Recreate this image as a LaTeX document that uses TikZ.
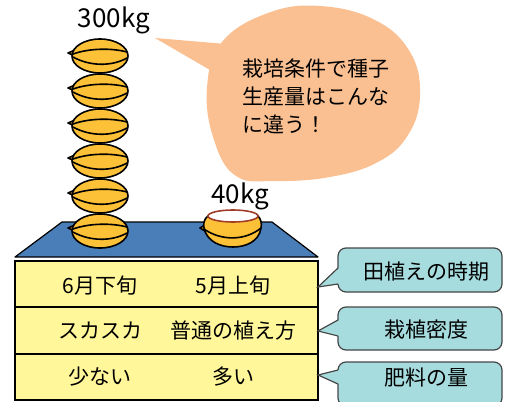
\documentclass[tikz,border=0pt]{standalone}
\usepackage{fontspec}
\setmainfont{Noto Sans CJK JP}
\definecolor{grainfill}{RGB}{253,193,55}
\definecolor{topblue}{RGB}{74,126,184}
\definecolor{tableyellow}{RGB}{255,247,153}
\definecolor{peach}{RGB}{250,192,146}
\definecolor{calloutteal}{RGB}{166,220,222}
\definecolor{callrim}{RGB}{70,70,70}
\definecolor{rimbrown}{RGB}{160,60,40}
\begin{document}
\begin{tikzpicture}[x=1pt,y=-1pt,
  grainedge/.style={draw=black, line width=1.6pt},
  lbl/.style={font=\fontsize{21}{25}\selectfont, inner sep=0pt},
  weight/.style={font=\fontsize{26}{30}\selectfont, inner sep=0pt},
  callbox/.style={draw=callrim, fill=calloutteal, line width=1.2pt,
    rounded corners=8pt, minimum width=164pt, inner sep=0pt},
  calltail/.style={draw=callrim, line width=1.2pt, line join=miter},
  grain/.pic={
    \filldraw[grainedge, fill=grainfill, line join=round] (-25,-6) -- (-32,-3) -- (-25,0) -- cycle;
    \filldraw[grainedge, fill=grainfill] (0,0) ellipse [x radius=28, y radius=17];
    \draw[grainedge] (-27,-2) .. controls (-10,-8) and (12,-8) .. (27,-4);
    \draw[grainedge] (-27,1) .. controls (-10,10.5) and (12,10.5) .. (27,2);
  }]
\useasboundingbox (0,0) rectangle (505,401);

% speech bubble
\fill[peach] plot[smooth cycle, tension=0.7] coordinates
  {(207,88) (222,42) (268,13) (320,6) (375,20) (410,52) (420,95)
   (408,135) (378,162) (330,177) (275,181) (236,176) (214,140)};
\fill[peach] (226,44) -- (155,38) -- (210,70) -- cycle;
\node[lbl, anchor=base west] (msgA) at (242,77) {栽培条件で種子};
\node[lbl, anchor=base west] (msgB) at (242,104.5) {生産量はこんな};
\node[lbl, anchor=base west] (msgC) at (242,132) {に違う！};

% blue top of the field block
\filldraw[fill=topblue, draw=black, line width=1.2pt, line join=round]
  (15,257) -- (62,222) -- (272,222) -- (318,257) -- cycle;

% table of conditions
\filldraw[fill=tableyellow, draw=black, line width=1.6pt] (15,261) rectangle (318,400);
\draw[line width=1.6pt] (15,307) -- (318,307);
\draw[line width=1.6pt] (15,354) -- (318,354);
\node[lbl] (c11) at (100,286) {6月下旬};
\node[lbl] (c12) at (233,286) {5月上旬};
\node[lbl] (c21) at (100,331) {スカスカ};
\node[lbl] (c22) at (233,331) {普通の植え方};
\node[lbl] (c31) at (100,377) {少ない};
\node[lbl] (c32) at (233,377) {多い};

% stack of seeds (300kg)
\foreach \gy in {56,91,126,161,196,231}
  \pic at (100,\gy) {grain};
\node[weight, anchor=base] (w300) at (114,28) {300kg};

% small seed heap (40kg)
\begin{scope}[shift={(233,216)}]
  \filldraw[grainedge, fill=grainfill, line join=round] (-28,9) -- (-33,12) -- (-28,15) -- cycle;
  \filldraw[grainedge, fill=grainfill]
    (-25,0) .. controls (-29,3) and (-30,8) .. (-29,12)
    .. controls (-26,26) and (-12,31) .. (0,31)
    .. controls (12,31) and (26,26) .. (28,12)
    .. controls (29,8) and (28,3) .. (25,0) -- cycle;
  \draw[grainedge] (-29,13) .. controls (-12,25) and (12,25) .. (28,12);
  \filldraw[fill=white, draw=rimbrown, line width=1.6pt] (0,0) ellipse [x radius=25, y radius=6];
\end{scope}
\node[weight, anchor=base] (w40) at (240,203) {40kg};

% callouts naming the conditions
\node[callbox, minimum height=44pt] (cb1) at (420,270) {};
\fill[calloutteal] (339,268) -- (318,287) -- (339,284) -- cycle;
\draw[calltail] (338,268) -- (318,287) -- (338,284);
\node[lbl] (t1) at (426,272) {田植えの時期};

\node[callbox, minimum height=43pt] (cb2) at (420,328.5) {};
\fill[calloutteal] (339,320) -- (318,331) -- (339,336) -- cycle;
\draw[calltail] (338,320) -- (318,331) -- (338,336);
\node[lbl] (t2) at (426,330) {栽植密度};

\node[callbox, minimum height=44pt] (cb3) at (420,384) {};
\fill[calloutteal] (339,370) -- (318,375) -- (339,384) -- cycle;
\draw[calltail] (338,370) -- (318,375) -- (338,384);
\node[lbl] (t3) at (426,378) {肥料の量};
\end{tikzpicture}
\end{document}
